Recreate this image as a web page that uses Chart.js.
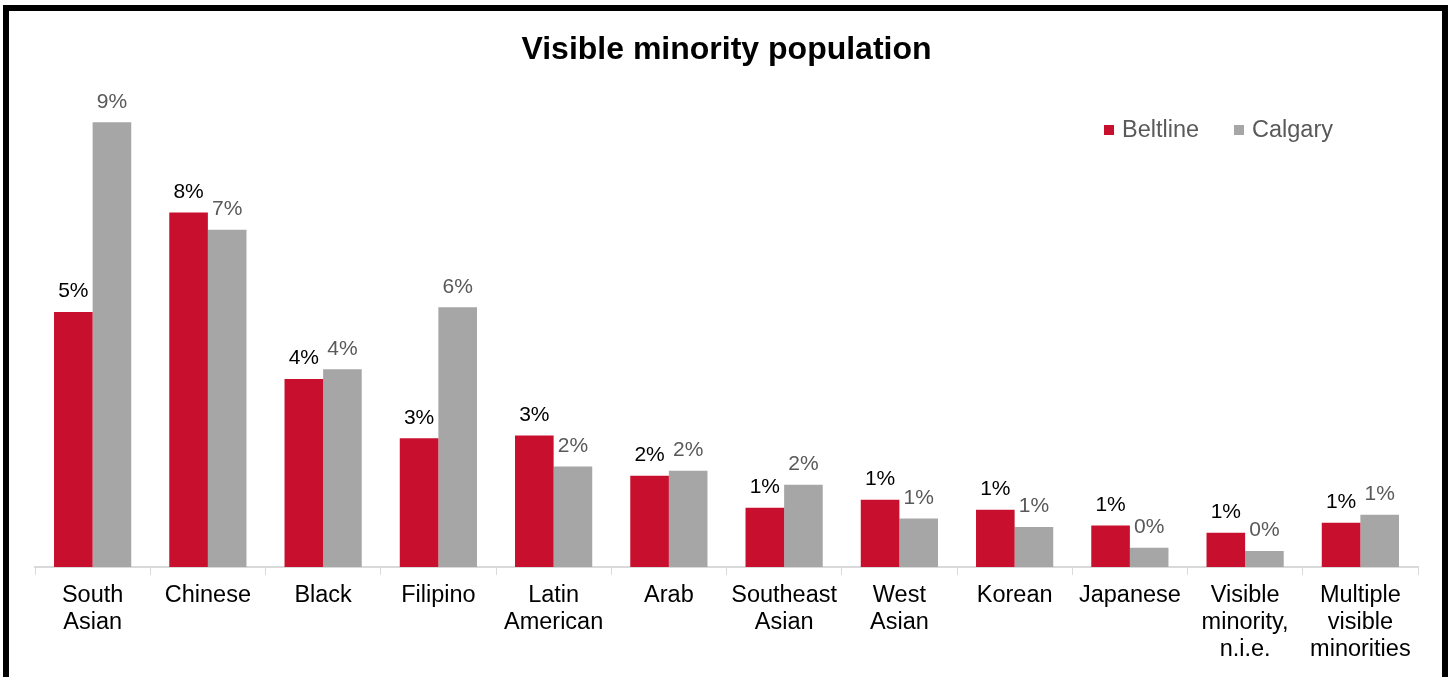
<!DOCTYPE html>
<html>
<head>
<meta charset="utf-8">
<title>Visible minority population</title>
<script src="https://cdn.jsdelivr.net/npm/chart.js@4.4.1/dist/chart.umd.min.js"></script>
<style>
  html, body { margin: 0; padding: 0; background: #fff; overflow: hidden; }
  #wrap { position: relative; width: 1448px; height: 677px; }
  #frame {
    position: absolute; left: 3px; top: 5px; width: 1433px; height: 700px;
    border: 6px solid #000; pointer-events: none;
  }
</style>
</head>
<body>
<div id="wrap">
  <canvas id="chart" width="1448" height="677"></canvas>
  <div id="frame"></div>
</div>
<script>
const categories = [
  ['South', 'Asian'], 'Chinese', 'Black', 'Filipino', ['Latin', 'American'], 'Arab',
  ['Southeast', 'Asian'], ['West', 'Asian'], 'Korean', 'Japanese',
  ['Visible', 'minority,', 'n.i.e.'], ['Multiple', 'visible', 'minorities']
];
// share of population, %
const beltline = [5.43, 7.55, 4.0, 2.74, 2.8, 1.94, 1.26, 1.43, 1.22, 0.88, 0.73, 0.94];
const calgary  = [9.47, 7.18, 4.21, 5.53, 2.14, 2.05, 1.75, 1.03, 0.85, 0.41, 0.34, 1.11];

const RED = '#C8102E';
const GREY = '#A6A6A6';
const FONT = 'Arial, "Liberation Sans", sans-serif';

// value labels above every bar (no datalabels plugin available offline)
const barLabels = {
  id: 'barLabels',
  afterDatasetsDraw(chart) {
    const ctx = chart.ctx;
    ctx.save();
    ctx.font = '21px ' + FONT;
    ctx.textAlign = 'center';
    ctx.textBaseline = 'bottom';
    chart.data.datasets.forEach((ds, i) => {
      chart.getDatasetMeta(i).data.forEach((bar, j) => {
        ctx.fillStyle = ds.labelColor;
        ctx.fillText(Math.round(ds.data[j]) + '%', bar.x, bar.y - 10);
      });
    });
    ctx.restore();
  }
};

// legend placed inside the plot, top right
const insideLegend = {
  id: 'insideLegend',
  afterDraw(chart) {
    const ctx = chart.ctx;
    let x = 1104;
    const y = 130;
    ctx.save();
    ctx.font = '23.5px ' + FONT;
    ctx.textBaseline = 'middle';
    chart.data.datasets.forEach(ds => {
      ctx.fillStyle = ds.backgroundColor;
      ctx.fillRect(x, y - 5, 10, 10);
      ctx.fillStyle = '#595959';
      ctx.fillText(ds.label, x + 18, y + 1);
      x += 130;
    });
    ctx.restore();
  }
};

new Chart(document.getElementById('chart'), {
  type: 'bar',
  data: {
    labels: categories,
    datasets: [
      { label: 'Beltline', data: beltline, backgroundColor: RED, labelColor: '#000' },
      { label: 'Calgary', data: calgary, backgroundColor: GREY, labelColor: '#595959' }
    ]
  },
  options: {
    responsive: false,
    animation: false,
    layout: { padding: { left: 35, right: 30, top: 0, bottom: 6 } },
    datasets: { bar: { categoryPercentage: 0.67, barPercentage: 1.0 } },
    plugins: {
      legend: { display: false },
      tooltip: { enabled: false },
      title: {
        display: true,
        text: 'Visible minority population',
        color: '#000',
        font: { family: FONT, size: 32, weight: 'bold' },
        padding: { top: 31, bottom: 28 }
      }
    },
    scales: {
      x: {
        grid: { display: true, drawOnChartArea: false, drawTicks: true, tickLength: 8, color: '#D9D9D9', offset: true },
        border: { color: '#D9D9D9', width: 2 },
        ticks: { color: '#000', font: { family: FONT, size: 23.5, lineHeight: 1.15 }, padding: 7.5, maxRotation: 0, autoSkip: false }
      },
      y: {
        display: false,
        min: 0,
        max: 10
      }
    }
  },
  plugins: [barLabels, insideLegend]
});
</script>
</body>
</html>
